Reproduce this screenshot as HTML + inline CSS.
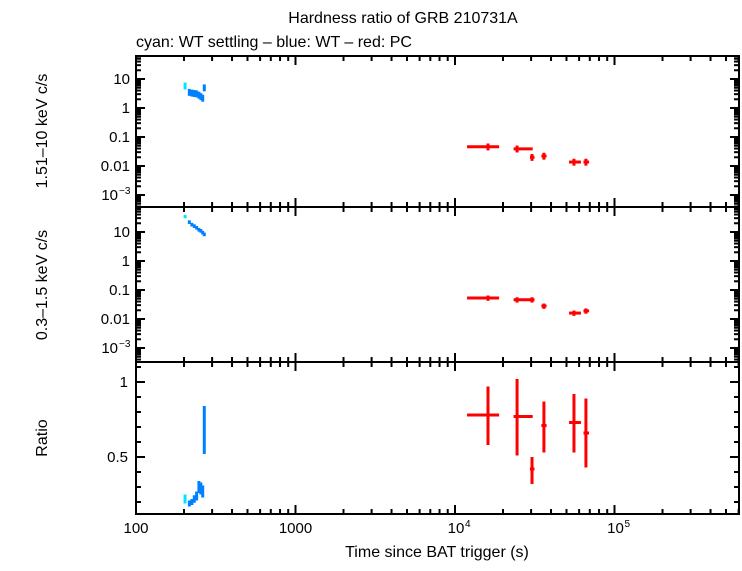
<!DOCTYPE html>
<html><head><meta charset="utf-8"><style>
body{margin:0;background:#fff;}
svg text{font-family:"Liberation Sans",sans-serif;fill:#000;}
</style></head><body>
<svg id="c" width="742" height="566" xmlns="http://www.w3.org/2000/svg">
<text x="403" y="23" font-size="16" text-anchor="middle">Hardness ratio of GRB 210731A</text>
<text x="136" y="47" font-size="16">cyan: WT settling – blue: WT – red: PC</text>
<g id="g"></g>
</svg>
<script>
// data
const cyanT=[203], cyanTe=[3];
const cyanHard=[5.8], cyanSoft=[34], cyanRatio=[0.22], cyanRatioErr=[0.03];
const blueT=[216,224,232,240,248,255,262,268];
const blueHard=[3.5,3.3,3.2,3.1,2.8,2.5,2.2,5.0];
const blueSoft=[22,18,16,14,12,11,9.5,8.3];
const blueRatio=[0.19,0.20,0.22,0.24,0.30,0.29,0.27,0.68];
const blueRatioErr=[0.02,0.02,0.025,0.03,0.04,0.04,0.04,0.16];
const redT=[16100,24500,30400,36100,55700,66200];
const redTlo=[11900,23300,29500,34800,51900,63900];
const redThi=[18900,30700,31500,37500,61600,69300];
const redHard=[0.046,0.039,0.020,0.022,0.0137,0.0137];
const redSoft=[0.053,0.046,0.046,0.028,0.016,0.019];
const redRatio=[0.78,0.77,0.42,0.71,0.73,0.66];
const redRatioLo=[0.58,0.51,0.32,0.53,0.53,0.43];
const redRatioHi=[0.97,1.02,0.50,0.87,0.92,0.89];
const xTicks=[100,1000,10000,100000];
const xTickLabels=["100","1000","10","10"];
const logTicks=[10,1,0.1,0.01,0.001];
const logTickLabels=["10","1","0.1","0.01","10"];
const ratioTicks=[1,0.5];
const ratioTickLabels=["1","0.5"];

const NS="http://www.w3.org/2000/svg", g=document.getElementById('g');
const X0=136,X1=739;
const xs=t=>X0+(Math.log10(t)-2)*159.5;
const P=[{top:56,bot:207,ys:v=>79-(Math.log10(v)-1)*29},
         {top:207,bot:362,ys:v=>232-(Math.log10(v)-1)*29},
         {top:362,bot:514,ys:v=>382+(1-v)*150}];
function el(n,a,p){const e=document.createElementNS(NS,n);for(const k in a)e.setAttribute(k,a[k]);(p||g).appendChild(e);return e;}
function line(x1,y1,x2,y2,c,w,name){const e=el('line',{x1,y1,x2,y2,stroke:c,'stroke-width':w});

return e;}
function txt(x,y,s,anchor,size,name){const e=el('text',{x,y,'text-anchor':anchor,'font-size':size});e.textContent=s;

return e;}

P.forEach((p,i)=>{
  const r=el('rect',{x:X0,y:p.top,width:X1-X0,height:p.bot-p.top,fill:'none',stroke:'#000','stroke-width':2});
  
  
  for(let d=2;d<=5;d++)for(let m=1;m<10;m++){const t=m*Math.pow(10,d);const x=xs(t);if(x<=X0||x>=X1)continue;
    const L=m==1?9:5;line(x,p.top,x,p.top+L,'#000',2,'x-tick');line(x,p.bot,x,p.bot-L,'#000',2,'x-tick');}
  if(i<2){for(let d=-4;d<=1;d++)for(let m=1;m<10;m++){const v=m*Math.pow(10,d);const y=p.ys(v);if(y<=p.top||y>=p.bot)continue;
      const L=m==1?9:5;line(X0,y,X0+L,y,'#000',2,'y-tick');line(X1,y,X1-L,y,'#000',2,'y-tick');}
    logTicks.forEach((v,k)=>{const y=p.ys(v)+5;
      if(v==0.001){txt(X0-18,y,'10','end',15,'y-tick-label');txt(X0-17,y-6,'−3','start',10,'y-tick-label-exp');}
      else txt(X0-6,y,logTickLabels[k],'end',15,'y-tick-label');});
  } else {for(let v=0.2;v<=1.11;v+=0.1){const y=p.ys(v);const L=Math.abs(v-0.5)<0.01||Math.abs(v-1)<0.01?9:5;
      line(X0,y,X0+L,y,'#000',2,'y-tick');line(X1,y,X1-L,y,'#000',2,'y-tick');}
    ratioTicks.forEach((v,k)=>txt(X0-8,p.ys(v)+5,ratioTickLabels[k],'end',15,'y-tick-label'));}
});
xTicks.forEach((t,k)=>{const x=xs(t);
  if(t>=10000){txt(x+1,533,xTickLabels[k],'middle',15,'x-tick-label');txt(x+10,527,t==10000?'4':'5','start',10,'x-tick-label-exp');}
  else txt(x,533,xTickLabels[k],'middle',15,'x-tick-label');});
txt(437,557,'Time since BAT trigger (s)','middle',16,'x-axis-title');
const yt=(x,y,s,n)=>{const e=txt(x,y,s,'middle',16,n);e.setAttribute('transform','rotate(-90 '+x+' '+y+')');};
yt(47,131,'1.51–10 keV c/s','y-axis-title-hard');
yt(47,285,'0.3–1.5 keV c/s','y-axis-title-soft');
yt(47,438,'Ratio','y-axis-title-ratio');

function pt(t,tlo,thi,v,vlo,vhi,c,pi,name){const p=P[pi];const x=xs(t),y=p.ys(v);
  line(xs(tlo),y,xs(thi),y,c,3,name+'-xerr');line(x,p.ys(vlo),x,p.ys(vhi),c,3,name+'-yerr');}
cyanT.forEach((t,i)=>{
  pt(t,t-cyanTe[i],t+cyanTe[i],cyanHard[i],cyanHard[i]*0.75,cyanHard[i]*1.3,'#00e5ff',0,'cyan-hard');
  pt(t,t-cyanTe[i],t+cyanTe[i],cyanSoft[i],cyanSoft[i]*0.88,cyanSoft[i]*1.12,'#00e5ff',1,'cyan-soft');
  pt(t,t-cyanTe[i],t+cyanTe[i],cyanRatio[i],cyanRatio[i]-cyanRatioErr[i],cyanRatio[i]+cyanRatioErr[i],'#00e5ff',2,'cyan-ratio');});
blueT.forEach((t,i)=>{
  pt(t,t-3,t+3,blueHard[i],blueHard[i]*0.75,blueHard[i]*1.3,'#0080ff',0,'blue-hard');
  pt(t,t-3,t+3,blueSoft[i],blueSoft[i]*0.86,blueSoft[i]*1.15,'#0080ff',1,'blue-soft');
  pt(t,t-3,t+3,blueRatio[i],blueRatio[i]-blueRatioErr[i],blueRatio[i]+blueRatioErr[i],'#0080ff',2,'blue-ratio');});
redT.forEach((t,i)=>{
  pt(t,redTlo[i],redThi[i],redHard[i],redHard[i]*0.75,redHard[i]*1.3,'#ff0000',0,'red-hard');
  pt(t,redTlo[i],redThi[i],redSoft[i],redSoft[i]*0.8,redSoft[i]*1.22,'#ff0000',1,'red-soft');
  pt(t,redTlo[i],redThi[i],redRatio[i],redRatioLo[i],redRatioHi[i],'#ff0000',2,'red-ratio');});
</script>
</body></html>
